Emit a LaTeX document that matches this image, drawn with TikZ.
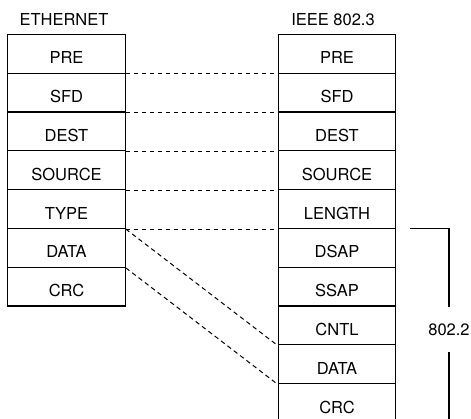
\documentclass[tikz,border=0pt]{standalone}
\usepackage{fontspec}
\setmainfont{TeX Gyre Heros}
\newcommand{\framefont}{\fontsize{16.5}{20}\selectfont}
\begin{document}
\begin{tikzpicture}[x=1pt,y=-1pt,
  field/.style={draw, line width=1.2pt, minimum width=117.5pt, minimum height=38.8pt,
                inner sep=0pt, text height=20pt, text depth=0pt, font=\framefont},
  heading/.style={inner sep=0pt, text height=12pt, text depth=0pt, font=\framefont},
  link/.style={line width=1pt, dash pattern=on 4.5pt off 3.5pt},
  bracket/.style={line width=1.2pt}]
  \path[use as bounding box, fill=white] (0,0) rectangle (471,419);

  % Ethernet frame
  \node[heading] (eth) at (64,19.5) {ETHERNET};
  \foreach \t [count=\k] in {PRE,SFD,DEST,SOURCE,TYPE,DATA,CRC}
    \node[field] (e\k) at (66.5,{34.5+38.8*(\k-0.5)}) {\t};

  % IEEE 802.3 frame
  \node[heading] (ieee) at (333,19.5) {IEEE 802.3};
  \foreach \t [count=\k] in {PRE,SFD,DEST,SOURCE,LENGTH,DSAP,SSAP,CNTL,DATA,CRC}
    \node[field] (i\k) at (337,{34.5+38.8*(\k-0.5)}) {\t};

  % corresponding field boundaries
  \foreach \k in {1,...,5}
    \draw[link] (e\k.south east) -- (i\k.south west);
  \draw[link] (e5.south east) -- (i8.south west);
  \draw[link] (e6.south east) -- (i9.south west);

  % 802.2 header bracket
  \node[heading, minimum height=45pt] (llc) at (449,329.5) {802.2};
  \coordinate (bt) at (410,228.5);
  \coordinate (bb) at (449,425);
  \draw[bracket] (bt) -| (llc.north);
  \draw[bracket] (llc.south) -- (bb);
\end{tikzpicture}
\end{document}
